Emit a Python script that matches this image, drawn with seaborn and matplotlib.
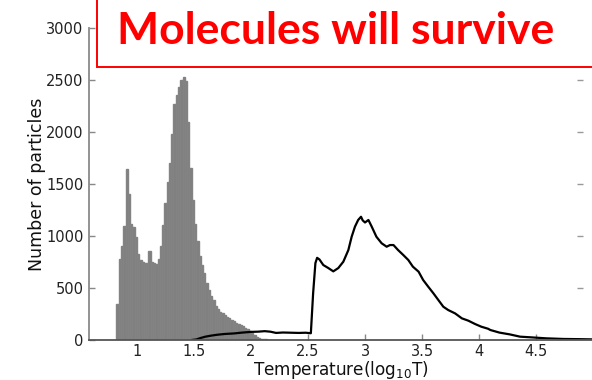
import numpy as np
import pandas as pd
import seaborn as sns
import matplotlib
matplotlib.use("Agg")
import matplotlib.pyplot as plt
from matplotlib.patches import Rectangle

# Histogram of particle temperatures (grey bars), 0.02-dex bins starting at log10 T = 0.82
hist_start = 0.82
hist_binwidth = 0.02
hist_counts = [
    350, 780, 900, 1100, 1640, 1400, 1120, 1090, 990, 830,
    770, 750, 740, 745, 860, 750, 740, 735, 780, 900,
    1110, 1320, 1520, 1700, 1980, 2270, 2360, 2430, 2500, 2530,
    2490, 2100, 1650, 1350, 1120, 950, 810, 720, 640, 550,
    480, 420, 380, 330, 300, 270, 255, 240, 220, 208,
    195, 180, 168, 158, 148, 138, 120, 108, 85, 65,
    45, 30, 20, 12, 8, 5, 3, 2,
]

# Temperature distribution of the surviving particles (black curve)
line_T = [
    1.48, 1.52, 1.56, 1.60, 1.65, 1.70, 1.77, 1.85, 1.92, 2.00,
    2.06, 2.12, 2.17, 2.22, 2.28, 2.35, 2.42, 2.48, 2.525, 2.545,
    2.565, 2.58, 2.60, 2.634, 2.678, 2.722, 2.766, 2.81, 2.854, 2.883,
    2.912, 2.94, 2.965, 2.98, 3.00, 3.03, 3.059, 3.10, 3.146, 3.19,
    3.219, 3.25, 3.29, 3.336, 3.38, 3.42, 3.47, 3.51, 3.555, 3.60,
    3.643, 3.687, 3.73, 3.79, 3.85, 3.906, 3.965, 4.02, 4.08, 4.10,
    4.18, 4.27, 4.36, 4.45, 4.59, 4.74, 4.89, 4.99,
]
line_counts = [
    0, 5, 20, 32, 42, 50, 58, 63, 71, 78,
    80, 85, 80, 68, 72, 70, 68, 70, 65, 450,
    740, 790, 775, 721, 692, 660, 692, 753, 865, 993,
    1090, 1154, 1185, 1150, 1130, 1154, 1090, 993, 930, 897,
    913, 913, 865, 817, 769, 705, 657, 577, 512, 449,
    385, 320, 288, 256, 208, 186, 154, 128, 108, 96,
    71, 54, 32, 26, 16, 10, 8, 6,
]

x_ticks = [1, 1.5, 2, 2.5, 3, 3.5, 4, 4.5]
x_ticklabels = ["1", "1.5", "2", "2.5", "3", "3.5", "4", "4.5"]
y_ticks = [0, 500, 1000, 1500, 2000, 2500, 3000]

title_text = "Molecules will survive"
x_label = "Temperature(log$_{10}$T)"
y_label = "Number of particles"

sns.set_theme(style="ticks")
plt.rcParams["font.family"] = ["DejaVu Sans"]

n_bins = len(hist_counts)
edges = [round(hist_start + hist_binwidth * k, 4) for k in range(n_bins + 1)]
centers = [0.5 * (edges[k] + edges[k + 1]) for k in range(n_bins)]
hist_df = pd.DataFrame({"logT": centers, "count": hist_counts})
line_df = pd.DataFrame({"logT": line_T, "count": line_counts})

fig = plt.figure(figsize=(5.92, 3.80), dpi=100)
ax = fig.add_axes([89 / 592, 40 / 380, 1 - 89 / 592, 312 / 380])

sns.histplot(data=hist_df, x="logT", weights="count",
             binwidth=hist_binwidth, binrange=(edges[0], edges[-1]),
             color="#808080", edgecolor="#838383", linewidth=1.0,
             alpha=1.0, ax=ax)
sns.lineplot(data=line_df, x="logT", y="count", color="black",
             linewidth=1.6, estimator=None, sort=False, ax=ax)

ax.set_xlim(1 - 48 / 114, 1 + (592 - 137) / 114)
ax.set_ylim(0, 3000)
ax.set_xticks(x_ticks)
ax.set_xticklabels(x_ticklabels)
ax.set_yticks(y_ticks)
ax.tick_params(axis="both", direction="in", length=4, width=1,
               color="#888888", labelsize=10.5, labelcolor="#222222")
ax.tick_params(axis="y", pad=4)
ax.tick_params(axis="x", pad=3)

for side in ("top", "right"):
    ax.spines[side].set_visible(False)
ax.spines["left"].set_color("#8a8a8a")
ax.spines["left"].set_linewidth(1.3)
ax.spines["bottom"].set_color("#555555")
ax.spines["bottom"].set_linewidth(1.3)

# Short inward tick marks along the right-hand border
ax.hlines(y_ticks[1:-1], (577 - 89) / 503, (583 - 89) / 503,
          transform=ax.get_yaxis_transform(), color="#999999", linewidth=1)

ax.set_xlabel(x_label, fontsize=12.2, color="#111111", labelpad=0)
ax.set_ylabel(y_label, fontsize=12.5, color="#111111", labelpad=0)

# Red callout box with the headline
box = Rectangle((97 / 592, (380 - 67) / 380), 1.0, 0.3,
                transform=fig.transFigure, facecolor="white",
                edgecolor="#ff0000", linewidth=1.4, zorder=10)
fig.patches.append(box)
fig.text(336 / 592, (380 - 31) / 380, title_text, color="#ff0000",
         fontsize=32, fontweight="bold", family="Lato",
         ha="center", va="center", zorder=11)

fig.savefig("out.png", dpi=100)
